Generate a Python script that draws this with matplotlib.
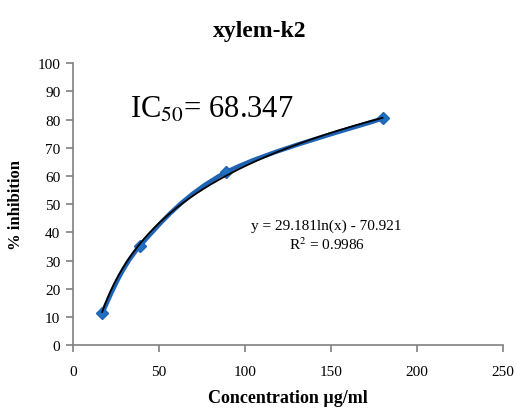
import numpy as np
import matplotlib.pyplot as plt
from matplotlib.path import Path
from matplotlib.patches import PathPatch

# data
conc = [17, 39, 89, 180]
inhib = [11.5, 35.2, 61.3, 80.4]

# trendline from the equation shown on the chart
fit_a = 29.181
fit_b = -70.921
r2 = 0.9986
ic50 = 68.347

x_ticks = [0, 50, 100, 150, 200, 250]
y_ticks = [0, 10, 20, 30, 40, 50, 60, 70, 80, 90, 100]

plt.rcParams['font.family'] = ['Liberation Serif', 'DejaVu Serif']

fig = plt.figure(figsize=(5.17, 4.14), dpi=100)
ax = fig.add_axes([0.141, 0.164, 0.832, 0.681])

# smoothed line like excel (catmull-rom -> bezier)
pts = np.column_stack([conc, inhib]).astype(float)
verts = [pts[0]]
codes = [Path.MOVETO]
n = len(pts)
for i in range(n - 1):
    p0 = pts[max(i - 1, 0)]
    p1 = pts[i]
    p2 = pts[i + 1]
    p3 = pts[min(i + 2, n - 1)]
    c1 = p1 + (p2 - p0) / 6
    c2 = p2 - (p3 - p1) / 6
    verts += [c1, c2, p2]
    codes += [Path.CURVE4] * 3
ax.add_patch(PathPatch(Path(verts, codes), fc='none', ec='#1f64b4', lw=3.2,
                       zorder=2))
ax.plot(conc, inhib, ls='none', marker='D', ms=6.5, mec='#1f64b4',
        mfc='#2070c0', zorder=2)

xs = np.linspace(min(conc), max(conc), 200)
ax.plot(xs, fit_a * np.log(xs) + fit_b, color='black', lw=1.3, zorder=3)

ax.set_xlim(0, 250)
ax.set_ylim(0, 100)
ax.set_xticks(x_ticks)
ax.set_yticks(y_ticks)

for s in ['top', 'right']:
    ax.spines[s].set_visible(False)
for s in ['left', 'bottom']:
    ax.spines[s].set_color('#808080')
    ax.spines[s].set_linewidth(1.2)
ax.tick_params(direction='out', length=5, color='#808080', width=1.2,
               labelsize=11, pad=4)
ax.tick_params(axis='x', pad=9)

fig.text(0.503, 0.925, 'xylem-k2', fontsize=17, fontweight='bold',
         ha='center', va='center')
ax.set_xlabel('Concentration µg/ml', fontsize=13, fontweight='bold', labelpad=8)
ax.set_ylabel('% inhibition', fontsize=12, fontweight='bold', labelpad=10)

ax.text(33, 81, 'IC$_{50}$= ' + f'{ic50:.3f}', fontsize=22,
        math_fontfamily='stix')
ax.text(147.5, 42.5, f'y = {fit_a:.3f}ln(x) - {abs(fit_b):.3f}', fontsize=11,
        ha='center', va='center')
ax.text(147.5, 35.8, f'R$^2$ = {r2}', fontsize=11, ha='center', va='center',
        math_fontfamily='stix')

plt.savefig('out.png', dpi=100)
